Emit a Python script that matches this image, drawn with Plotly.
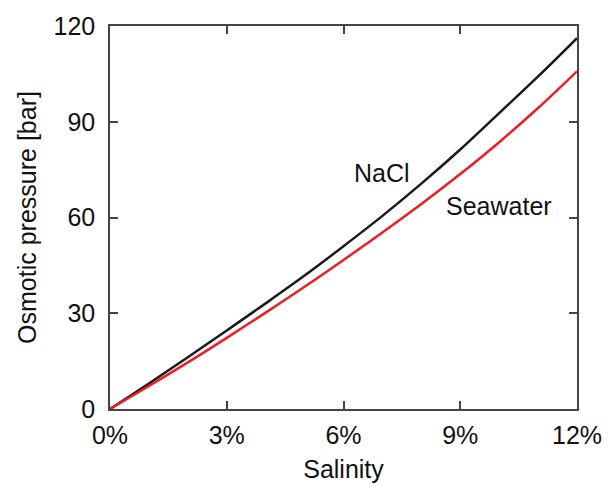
import plotly.graph_objects as go

salinity = [0, 1, 2, 3, 4, 5, 6, 7, 8, 9, 10, 11, 12]
nacl = [0, 8.0, 16.2, 24.6, 33.1, 41.8, 51.0, 60.5, 70.6, 81.3, 92.7, 104.2, 116.2]
seawater = [0, 7.2, 14.6, 22.3, 30.2, 38.3, 46.7, 55.3, 64.2, 73.6, 83.6, 94.3, 105.8]
x_ticks = [0, 3, 6, 9, 12]
x_labels = ["0%", "3%", "6%", "9%", "12%"]
y_ticks = [0, 30, 60, 90, 120]
y_labels = ["0", "30", "60", "90", "120"]

FONT = "Liberation Sans, Arial, sans-serif"
FS = 25

fig = go.Figure()
fig.add_trace(go.Scatter(x=salinity, y=nacl, mode="lines", name="NaCl",
                         line=dict(color="#1a1a1a", width=2.5, shape="spline")))
fig.add_trace(go.Scatter(x=salinity, y=seawater, mode="lines", name="Seawater",
                         line=dict(color="#ee1c24", width=2.5, shape="spline")))

fig.add_annotation(x=7.0, y=73.8, text="NaCl", showarrow=False,
                   font=dict(size=FS, color="#111", family=FONT))
fig.add_annotation(x=10.0, y=63.7, text="Seawater", showarrow=False,
                   font=dict(size=FS, color="#111", family=FONT))

axis_common = dict(showgrid=False, zeroline=False, showline=True, linecolor="#444",
                   linewidth=1.5, mirror="ticks", ticks="inside", ticklen=8,
                   tickcolor="#444", tickwidth=1.5, tickmode="array",
                   tickfont=dict(size=FS, color="#111", family=FONT))

fig.update_xaxes(range=[0, 12], tickvals=x_ticks, ticktext=x_labels, ticklabelstandoff=3,
                 title=dict(text="Salinity", font=dict(size=FS, color="#111", family=FONT), standoff=13),
                 **axis_common)
fig.update_yaxes(range=[0, 120], tickvals=y_ticks, ticktext=y_labels, ticklabelstandoff=8,
                 title=dict(text="Osmotic pressure [bar]", font=dict(size=FS, color="#111", family=FONT), standoff=10),
                 **axis_common)

fig.update_layout(width=614, height=491, showlegend=False,
                  plot_bgcolor="white", paper_bgcolor="white",
                  margin=dict(l=110, r=36, t=20, b=81))

fig.write_html("out.html")
